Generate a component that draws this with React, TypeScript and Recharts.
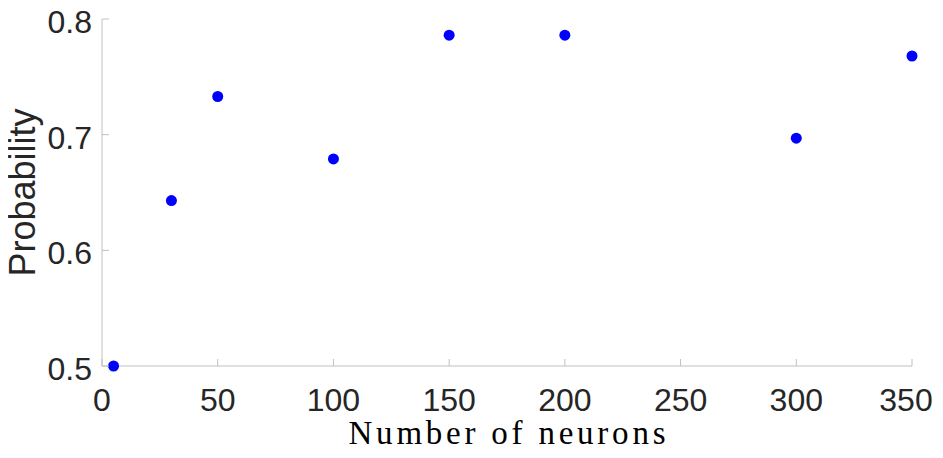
import { ScatterChart, Scatter, XAxis, YAxis } from 'recharts';

const neurons = [5, 30, 50, 100, 150, 200, 300, 350];
const probability = [0.5, 0.643, 0.733, 0.679, 0.786, 0.786, 0.697, 0.768];
const xTicks = [0, 50, 100, 150, 200, 250, 300, 350];
const yTicks = [0.5, 0.6, 0.7, 0.8];

const points = neurons.map((n, i) => ({ n, p: probability[i] }));

const axisColor = '#c0c0c0';
const textColor = '#262626';
const tickFont = '"Liberation Sans", Arial, Helvetica, sans-serif';

// the page only shows up to ~x=935, keep the last label inside
const maxLabelX = 906;

function BottomTick({ x, y, payload }: any) {
  return (
    <g>
      <line x1={x} y1={y} x2={x} y2={y - 7} stroke={axisColor} />
      <text x={Math.min(x, maxLabelX)} y={y + 45} textAnchor="middle" fontSize={32} fontFamily={tickFont} fill={textColor}>
        {payload.value}
      </text>
    </g>
  );
}

function TopTick({ x, y }: any) {
  return <line x1={x} y1={y} x2={x} y2={y + 7} stroke={axisColor} />;
}

function LeftTick({ x, y, payload }: any) {
  return (
    <g>
      <line x1={x} y1={y} x2={x + 7} y2={y} stroke={axisColor} />
      <text x={x - 10} y={y + 14} textAnchor="end" fontSize={32} fontFamily={tickFont} fill={textColor}>
        {payload.value.toFixed(1)}
      </text>
    </g>
  );
}

function RightTick({ x, y }: any) {
  return <line x1={x} y1={y} x2={x - 7} y2={y} stroke={axisColor} />;
}

function Dot({ cx, cy }: any) {
  return <circle cx={cx} cy={cy} r={5.5} fill="#0000ff" />;
}

// labels placed relative to the plot box that recharts hands in
function XLabel({ viewBox }: any) {
  const cx = viewBox.x + viewBox.width / 2;
  return (
    <text
      x={cx}
      y={viewBox.y + 78}
      textAnchor="middle"
      fontSize={33}
      textLength={317}
      lengthAdjust="spacing"
      fontFamily='"Liberation Serif", "Times New Roman", serif'
      fill="#000"
    >
      Number of neurons
    </text>
  );
}

function YLabel({ viewBox }: any) {
  const cy = viewBox.y + viewBox.height / 2;
  const x = 35;
  return (
    <text
      x={x}
      y={cy}
      transform={`rotate(-90, ${x}, ${cy})`}
      textAnchor="middle"
      fontSize={36}
      fontFamily={tickFont}
      fill={textColor}
    >
      Probability
    </text>
  );
}

export default function App() {
  return (
    <div style={{ margin: -8, width: 943, height: 458 }}>
      <ScatterChart width={943} height={458} margin={{ top: 19, right: 31, bottom: 0, left: 0 }}>
        <XAxis
          dataKey="n"
          type="number"
          domain={[0, 350]}
          ticks={xTicks}
          height={92}
          tickSize={0}
          tickMargin={0}
          tickLine={false}
          axisLine={{ stroke: axisColor }}
          tick={<BottomTick />}
          interval={0}
          label={(props: any) => <XLabel {...props} />}
        />
        <XAxis
          xAxisId="top"
          orientation="top"
          type="number"
          domain={[0, 350]}
          ticks={xTicks}
          height={0}
          tickSize={0}
          tickMargin={0}
          tickLine={false}
          axisLine={{ stroke: axisColor }}
          tick={<TopTick />}
          interval={0}
        />
        <YAxis
          dataKey="p"
          type="number"
          domain={[0.5, 0.8]}
          ticks={yTicks}
          width={102}
          tickSize={0}
          tickMargin={0}
          tickLine={false}
          axisLine={{ stroke: axisColor }}
          tick={<LeftTick />}
          interval={0}
          label={(props: any) => <YLabel {...props} />}
        />
        <YAxis
          yAxisId="right"
          orientation="right"
          type="number"
          domain={[0.5, 0.8]}
          ticks={yTicks}
          width={0}
          tickSize={0}
          tickMargin={0}
          tickLine={false}
          axisLine={{ stroke: axisColor }}
          tick={<RightTick />}
          interval={0}
        />
        <Scatter data={points} fill="#0000ff" shape={<Dot />} isAnimationActive={false} />
      </ScatterChart>
    </div>
  );
}
